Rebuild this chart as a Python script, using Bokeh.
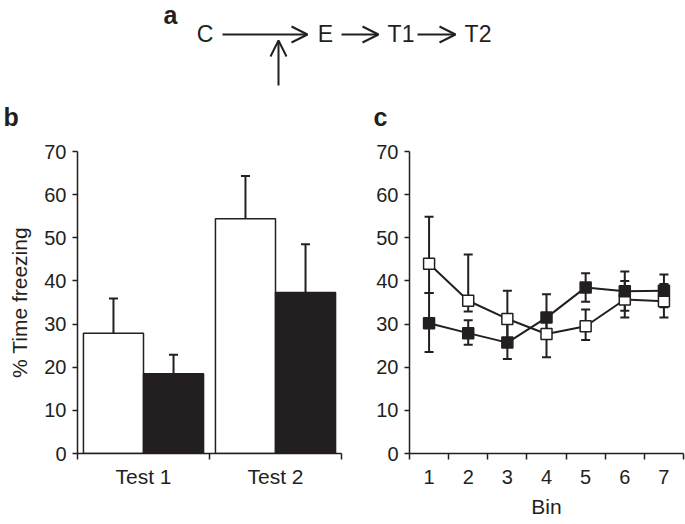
import numpy as np
from bokeh.plotting import figure
from bokeh.layouts import column, row
from bokeh.models import (Range1d, FixedTicker, Whisker, TeeHead, Arrow, OpenHead,
                          ColumnDataSource)
from bokeh.core.properties import value
from bokeh.embed import file_html
from bokeh.resources import INLINE

# ---------------- data ----------------
# panel a: schema
schema_nodes = ["C", "E", "T1", "T2"]
panel_letters = ["a", "b", "c"]

# panel b: % time freezing per test (white = control, black = treated)
tests = ["Test 1", "Test 2"]
white_test_mean = [27.9, 54.4]
white_test_sem = [8.0, 9.9]
black_test_mean = [18.5, 37.3]
black_test_sem = [4.4, 11.2]

# panel c: % time freezing per bin
bins = [1, 2, 3, 4, 5, 6, 7]
white_bin_mean = [44.0, 35.4, 31.2, 27.7, 29.5, 35.7, 35.3]
white_bin_hi = [54.9, 46.1, 37.7, 32.0, 33.4, 40.0, 39.3]
white_bin_lo = [37.2, 32.9, 26.0, 22.3, 26.3, 31.5, 31.5]
black_bin_mean = [30.2, 27.9, 25.7, 31.5, 38.5, 37.6, 37.7]
black_bin_hi = [37.2, 30.9, 30.5, 36.9, 41.8, 42.2, 41.5]
black_bin_lo = [23.5, 25.2, 21.9, 27.5, 35.2, 33.1, 33.9]

y_ticks = [0, 10, 20, 30, 40, 50, 60, 70]

# ---------------- style ----------------
FONT = "Liberation Sans"
INK = "#231f20"
TOP_H = 130
ROW_H = 394
TOP_BORDER = 21
BOTTOM_BORDER = 71


def style_axes(p):
    for ax in p.axis:
        ax.axis_line_color = INK
        ax.axis_line_width = 1.5
        ax.major_tick_line_color = INK
        ax.major_tick_line_width = 1.5
        ax.minor_tick_line_color = INK
        ax.minor_tick_line_width = 1.5
        ax.major_label_text_font = FONT
        ax.major_label_text_font_size = "20px"
        ax.major_label_text_color = INK
        ax.axis_label_text_font = FONT
        ax.axis_label_text_font_size = "21px"
        ax.axis_label_text_font_style = "normal"
        ax.axis_label_text_color = INK
    p.yaxis.ticker = FixedTicker(ticks=y_ticks, minor_ticks=[])
    p.yaxis.major_tick_out = 5
    p.yaxis.major_tick_in = 0
    p.yaxis.major_label_standoff = 6
    p.xaxis.major_tick_out = 0
    p.xaxis.major_tick_in = 0
    p.xaxis.minor_tick_out = 6
    p.xaxis.minor_tick_in = 0
    p.xgrid.visible = False
    p.ygrid.visible = False
    p.outline_line_color = None


# ---------------- panel a ----------------
fa = figure(width=685, height=TOP_H, x_range=Range1d(0, 685), y_range=Range1d(0, TOP_H),
            output_backend="svg", toolbar_location=None, min_border=0,
            x_axis_location=None, y_axis_location=None)
fa.xgrid.visible = False
fa.ygrid.visible = False
fa.outline_line_color = None

fa.text(x=[204.5, 325, 400.5, 477.5], y=[97] * 4, text=schema_nodes,
        text_font=value(FONT), text_font_size="23px", text_align="center",
        text_baseline="middle", text_color=INK)
fa.text(x=[163, 3, 373], y=[116, 14, 13.5], text=panel_letters,
        text_font=value(FONT), text_font_size="25px", text_font_style="bold",
        text_align="left", text_baseline="middle", text_color=INK)
for xs, ys, xe, ye in [(222, 96, 307, 96), (341, 96, 378, 96), (417, 96, 455, 96),
                       (278, 45, 278, 90)]:
    fa.add_layout(Arrow(x_start=xs, y_start=ys, x_end=xe, y_end=ye, line_width=2,
                        line_color=INK,
                        end=OpenHead(size=16, line_width=2, line_color=INK)))

# ---------------- panel b ----------------
fb = figure(width=345, height=ROW_H, x_range=Range1d(0.5, 2.5), y_range=Range1d(0, 70),
            output_backend="svg", toolbar_location=None,
            min_border_left=77, min_border_right=4,
            min_border_top=TOP_BORDER, min_border_bottom=BOTTOM_BORDER)
style_axes(fb)
test_pos = np.arange(1, len(tests) + 1)
bar_w = 0.455
fb.xaxis.ticker = FixedTicker(ticks=list(test_pos),
                              minor_ticks=[0.5] + list(test_pos + 0.5))
fb.xaxis.major_label_overrides = {int(i): t for i, t in zip(test_pos, tests)}
fb.xaxis.major_label_text_font_size = "21px"
fb.xaxis.major_label_standoff = 5
fb.yaxis.axis_label = "% Time freezing"
fb.yaxis.axis_label_standoff = 10

for offset, mean, sem, fill in [(-bar_w / 2, white_test_mean, white_test_sem, "white"),
                                (bar_w / 2, black_test_mean, black_test_sem, INK)]:
    src = ColumnDataSource(dict(x=test_pos + offset, top=mean,
                                upper=np.array(mean) + np.array(sem)))
    fb.add_layout(Whisker(source=src, base="x", lower="top", upper="upper",
                          dimension="height", line_color=INK, line_width=2,
                          upper_head=TeeHead(size=9, line_width=2, line_color=INK),
                          lower_head=None))
    fb.vbar(x="x", top="top", bottom=0, width=bar_w, source=src,
            fill_color=fill, line_color=INK, line_width=1.5)

# ---------------- panel c ----------------
fc = figure(width=340, height=ROW_H, x_range=Range1d(0.5, 7.5), y_range=Range1d(0, 70),
            output_backend="svg", toolbar_location=None,
            min_border_left=64, min_border_right=2,
            min_border_top=TOP_BORDER, min_border_bottom=BOTTOM_BORDER)
style_axes(fc)
fc.xaxis.ticker = FixedTicker(ticks=bins, minor_ticks=[b - 0.5 for b in bins] + [bins[-1] + 0.5])
fc.xaxis.major_label_standoff = 10
fc.xaxis.axis_label = "Bin"
fc.xaxis.axis_label_standoff = 8

series = [(white_bin_mean, white_bin_lo, white_bin_hi, "white"),
          (black_bin_mean, black_bin_lo, black_bin_hi, INK)]
srcs = []
for mean, lo, hi, fill in series:
    src = ColumnDataSource(dict(x=bins, y=mean, lo=lo, hi=hi))
    srcs.append((src, fill))
    fc.add_layout(Whisker(source=src, base="x", lower="lo", upper="hi",
                          dimension="height", line_color=INK, line_width=2,
                          upper_head=TeeHead(size=9, line_width=2, line_color=INK),
                          lower_head=TeeHead(size=9, line_width=2, line_color=INK)))
for src, fill in srcs:
    fc.line(x="x", y="y", source=src, line_color=INK, line_width=2)
for src, fill in srcs:
    fc.scatter(x="x", y="y", source=src, marker="square", size=11,
               fill_color=fill, line_color=INK, line_width=1.5)

layout = column(fa, row(fb, fc))
open("out.html", "w").write(file_html(layout, INLINE))
